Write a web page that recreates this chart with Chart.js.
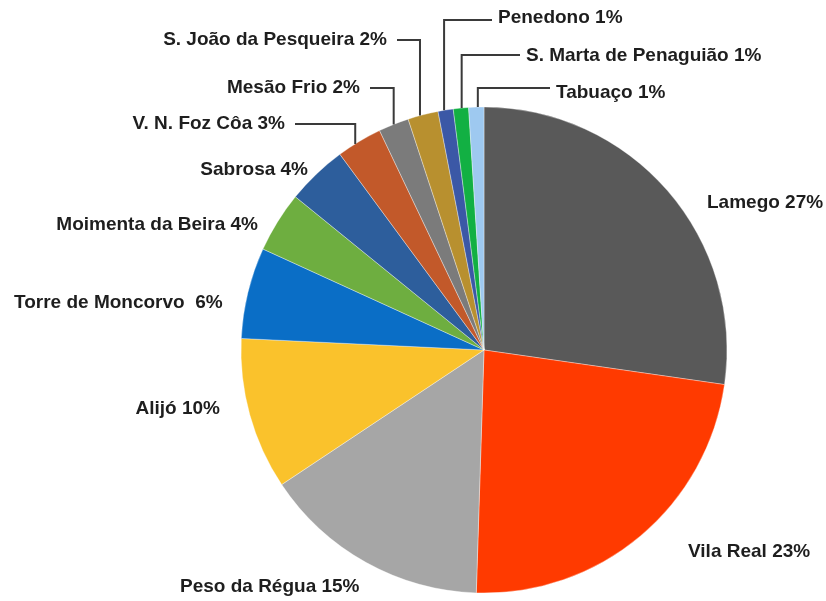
<!DOCTYPE html>
<html>
<head>
<meta charset="utf-8">
<script src="https://cdn.jsdelivr.net/npm/chart.js@4.4.1/dist/chart.umd.min.js"></script>
<style>
  html, body { margin: 0; padding: 0; background: #fff; }
  #wrap { width: 826px; height: 601px; }
</style>
</head>
<body>
<div id="wrap"><canvas id="pie" width="826" height="601"></canvas></div>
<script>
// municipalities, clockwise from 12 o'clock
const municipios = ['Lamego', 'Vila Real', 'Peso da Régua', 'Alijó', 'Torre de Moncorvo ', 'Moimenta da Beira',
  'Sabrosa', 'V. N. Foz Côa', 'Mesão Frio', 'S. João da Pesqueira', 'Penedono', 'S. Marta de Penaguião', 'Tabuaço'];
const percentagens = [27, 23, 15, 10, 6, 4, 4, 3, 2, 2, 1, 1, 1];
const cores = ['#595959', '#ff3a00', '#a6a6a6', '#fac22c', '#0a6ec6', '#6eae40', '#2d5e9c',
  '#c2592a', '#7b7b7b', '#b8902f', '#3b58a6', '#12b043', '#9ec9f0'];

// label placement: x, y, align, leader line y, anchor = where in the slice the leader starts
const posLabels = [
  { x: 707, y: 203, align: 'left' },
  { x: 688, y: 552, align: 'left' },
  { x: 180, y: 587, align: 'left' },
  { x: 220, y: 409, align: 'right' },
  { x: 14, y: 303, align: 'left' },
  { x: 258, y: 225, align: 'right' },
  { x: 308, y: 170, align: 'right' },
  { x: 285, y: 124, align: 'right', leader: 124, anchor: 0.4 },
  { x: 360, y: 88, align: 'right', leader: 88, anchor: 0.5 },
  { x: 387, y: 40, align: 'right', leader: 40, anchor: 0.4 },
  { x: 498, y: 18, align: 'left', leader: 20, anchor: 0.4 },
  { x: 526, y: 56, align: 'left', leader: 55, anchor: 0.55 },
  { x: 556, y: 93, align: 'left', leader: 88, anchor: 0.6 }
];

const labelPlugin = {
  id: 'labelPlugin',
  afterDatasetsDraw(chart) {
    const ctx = chart.ctx;
    const arcs = chart.getDatasetMeta(0).data;
    ctx.save();
    ctx.font = 'bold 19px "Liberation Sans", Arial, sans-serif';
    ctx.textBaseline = 'middle';
    arcs.forEach((arc, i) => {
      const p = posLabels[i];
      const txt = municipios[i] + ' ' + percentagens[i] + '%';
      if (p.leader !== undefined) {
        const a = arc.startAngle + (arc.endAngle - arc.startAngle) * p.anchor;
        const ax = arc.x + Math.cos(a) * arc.outerRadius;
        const ay = arc.y + Math.sin(a) * arc.outerRadius;
        const endX = p.align === 'right' ? p.x + 10 : p.x - 6;
        ctx.strokeStyle = '#3a3a3a';
        ctx.lineWidth = 2;
        ctx.beginPath();
        ctx.moveTo(ax, ay);
        ctx.lineTo(ax, p.leader);
        ctx.lineTo(endX, p.leader);
        ctx.stroke();
      }
      ctx.fillStyle = '#1e1e1e';
      ctx.textAlign = p.align;
      ctx.fillText(txt, p.x, p.y);
    });
    ctx.restore();
  }
};

new Chart(document.getElementById('pie'), {
  type: 'pie',
  data: {
    labels: municipios,
    datasets: [{
      data: percentagens,
      backgroundColor: cores,
      borderColor: 'rgba(255,255,255,0.35)',
      borderWidth: 1
    }]
  },
  options: {
    responsive: false,
    animation: false,
    radius: 243,
    layout: { padding: { left: 142, right: 0, top: 99, bottom: 0 } },
    plugins: {
      legend: { display: false },
      tooltip: { enabled: false }
    }
  },
  plugins: [labelPlugin]
});
</script>
</body>
</html>
